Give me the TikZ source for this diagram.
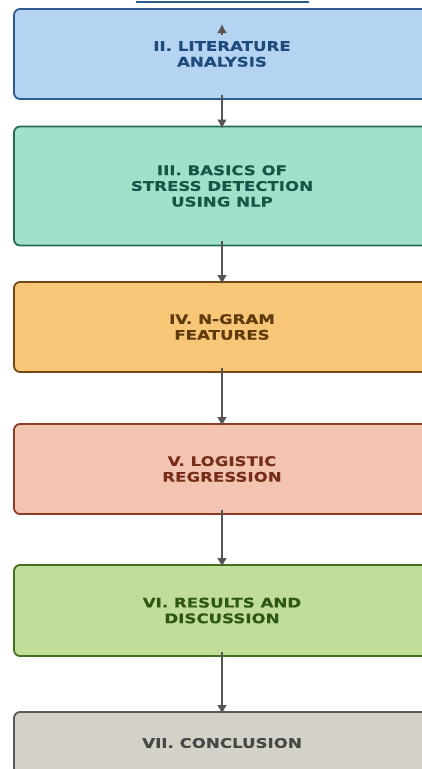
\documentclass[tikz,border=0pt]{standalone}
\usepackage{fontspec}
\usepackage{tikz}
\usetikzlibrary{arrows.meta}
\usepackage{xcolor}

\newfontfamily\boxfont[FakeStretch=1.26, BoldFeatures={FakeBold=0.4}]{DejaVu Sans}

\definecolor{litfill}{HTML}{B4D4F1}
\definecolor{litline}{HTML}{2E5C8E}
\definecolor{littext}{HTML}{1F4A7C}
\definecolor{basicsfill}{HTML}{A1E1CB}
\definecolor{basicsline}{HTML}{246B57}
\definecolor{basicstext}{HTML}{165646}
\definecolor{ngramfill}{HTML}{F8C677}
\definecolor{ngramline}{HTML}{774812}
\definecolor{ngramtext}{HTML}{5E3A0C}
\definecolor{logitfill}{HTML}{F4C4B3}
\definecolor{logitline}{HTML}{8C3C24}
\definecolor{logittext}{HTML}{772D18}
\definecolor{resultfill}{HTML}{C0DD99}
\definecolor{resultline}{HTML}{41701F}
\definecolor{resulttext}{HTML}{2F5714}
\definecolor{conclfill}{HTML}{D4D1C9}
\definecolor{conclline}{HTML}{5A5A5A}
\definecolor{concltext}{HTML}{474747}
\definecolor{arrowgray}{HTML}{555555}

\begin{document}
\begin{tikzpicture}[x=1pt, y=-1pt,
    box/.style={draw, rounded corners=6pt, line width=1.8pt, minimum width=416pt,
        align=center, inner sep=0pt, font=\boxfont\bfseries\fontsize{13.2}{15.7}\selectfont},
    flow/.style={draw=arrowgray, line width=2.8pt, -{Latex[length=9pt,width=10pt]}}]

        % Page frame
        \useasboundingbox (0,0) rectangle (422,769);
        \clip (0,0) rectangle (422,769);

        % Line at the top edge
        \draw[litline, line width=1.5pt] (136,2) -- (309,2);

        % Section boxes
        \node[box, fill=litfill, draw=litline, text=littext, minimum height=90pt] (lit) at (222,54) {II. LITERATURE\\ANALYSIS};
        \node[box, fill=basicsfill, draw=basicsline, text=basicstext, minimum height=119pt] (basics) at (222,186) {III. BASICS OF\\STRESS DETECTION\\USING NLP};
        \node[box, fill=ngramfill, draw=ngramline, text=ngramtext, minimum height=90pt] (ngram) at (222,327) {IV. N-GRAM\\FEATURES};
        \node[box, fill=logitfill, draw=logitline, text=logittext, minimum height=90pt] (logit) at (222,469) {V. LOGISTIC\\REGRESSION};
        \node[box, fill=resultfill, draw=resultline, text=resulttext, minimum height=91pt] (result) at (222,610.5) {VI. RESULTS AND\\DISCUSSION};
        \node[box, fill=conclfill, draw=conclline, text=concltext, minimum height=62pt] (concl) at (222,743) {VII. CONCLUSION};

        % Short arrow inside the first box
        \coordinate (litstem) at (222,35);
        \coordinate (littip) at (222,24);
        \draw[flow] (litstem) -- (littip);

        % Arrows between the boxes
        \draw[flow] ([yshift=5pt]lit.south) -- ([yshift=-3pt]basics.north);
        \draw[flow] ([yshift=5pt]basics.south) -- ([yshift=-3pt]ngram.north);
        \draw[flow] ([yshift=5pt]ngram.south) -- ([yshift=-3pt]logit.north);
        \draw[flow] ([yshift=5pt]logit.south) -- ([yshift=-3pt]result.north);
        \draw[flow] ([yshift=5pt]result.south) -- ([yshift=-3pt]concl.north);

    \end{tikzpicture}
\end{document}
